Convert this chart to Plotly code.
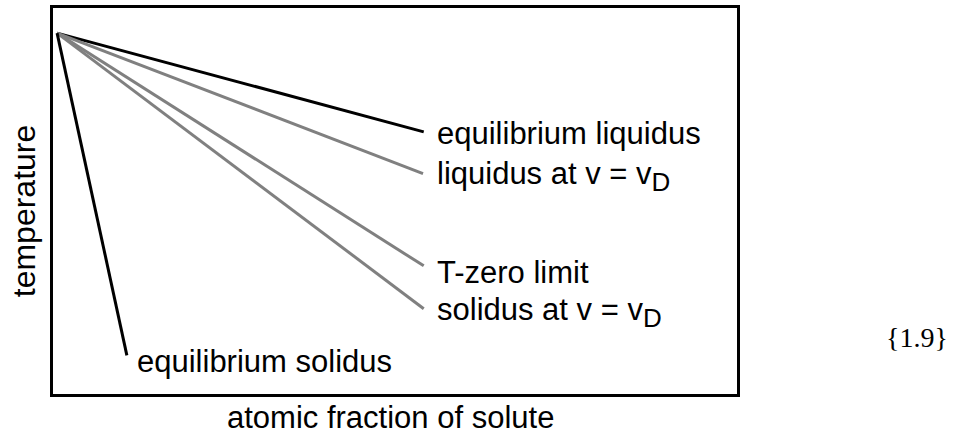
import plotly.graph_objects as go

# Schematic phase-diagram lines: all share the apex at the solvent melting point
apex = (0.006, 0.935)
line_names = ["equilibrium liquidus", "liquidus at v = vD", "T-zero limit",
              "solidus at v = vD", "equilibrium solidus"]
end_x = [0.542, 0.541, 0.542, 0.542, 0.108]
end_y = [0.679, 0.571, 0.332, 0.221, 0.100]
line_colors = ["#000000", "#808080", "#808080", "#808080", "#000000"]

# Label text beside each line end
sub_d = '<sub><span style="font-size:26px">D</span></sub>'
label_texts = ["equilibrium liquidus", "liquidus at v = v" + sub_d, "T-zero limit",
               "solidus at v = v" + sub_d, "equilibrium solidus"]
label_x = [0.559, 0.559, 0.559, 0.559, 0.120]
label_y = [0.675, 0.563, 0.315, 0.210, 0.083]

fig = go.Figure()
for name, xe, ye, col in zip(line_names, end_x, end_y, line_colors):
    fig.add_trace(go.Scatter(
        x=[apex[0], xe], y=[apex[1], ye], mode="lines", name=name,
        line=dict(color=col, width=3), showlegend=False, hoverinfo="skip"))

font = dict(family="Liberation Sans, Arial, sans-serif", color="#000000")
for txt, lx, ly in zip(label_texts, label_x, label_y):
    fig.add_annotation(x=lx, y=ly, xref="x", yref="y", text=txt, showarrow=False,
                       xanchor="left", yanchor="middle", font=dict(font, size=31))

fig.add_annotation(x=0.493, y=-0.062, xref="paper", yref="paper",
                   text="atomic fraction of solute", showarrow=False,
                   xanchor="center", yanchor="middle", font=dict(font, size=31))
fig.add_annotation(x=-0.043, y=0.475, xref="paper", yref="paper",
                   text="temperature", showarrow=False, textangle=-90,
                   xanchor="center", yanchor="middle", font=dict(font, size=32))
fig.add_annotation(x=1.263, y=0.147, xref="paper", yref="paper",
                   text="{1.9}", showarrow=False, xanchor="center", yanchor="middle",
                   font=dict(family="Liberation Serif, Times New Roman, serif",
                             size=28, color="#000000"))

axis_common = dict(range=[0, 1], showgrid=False, zeroline=False, showticklabels=False,
                   ticks="", showline=True, linecolor="#000000", linewidth=3, mirror=True,
                   fixedrange=True)
fig.update_xaxes(**axis_common)
fig.update_yaxes(**axis_common)
fig.update_layout(width=953, height=436, margin=dict(l=53, r=216, t=5, b=42),
                  plot_bgcolor="#ffffff", paper_bgcolor="#ffffff")

fig.write_html("out.html")
